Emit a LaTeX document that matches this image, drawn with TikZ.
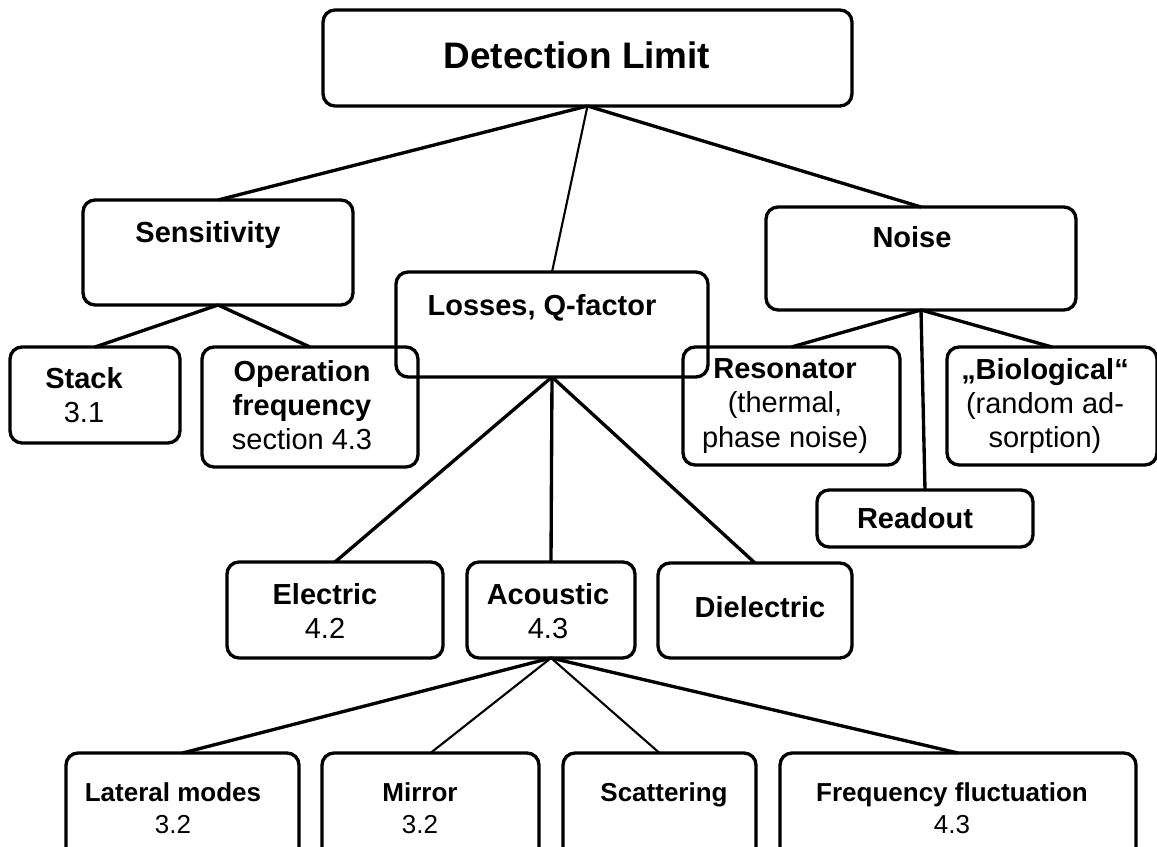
\documentclass[tikz,border=0pt]{standalone}
\usepackage{fontspec}
\setmainfont{Liberation Sans}

\begin{document}
\begin{tikzpicture}[x=0.02cm, y=-0.02cm,
    box/.style={draw, line width=1.9pt, rounded corners=0.24cm, inner sep=0pt, outer sep=0pt},
    link/.style={line width=1.9pt},
    thinlink/.style={line width=1.2pt},
    txt/.style={inner sep=0pt, align=center, font=\fontsize{16.5}{19.4}\selectfont},
    small/.style={inner sep=0pt, align=center, font=\fontsize{14.8}{18.2}\selectfont},
    title/.style={inner sep=0pt, font=\fontsize{21}{25}\selectfont\bfseries}]
  \useasboundingbox (0,0) rectangle (1157,847);
  \clip (0,0) rectangle (1157,847);

  % boxes
  \node[box, minimum width=10.58cm, minimum height=1.92cm] (dl) at (587.5,58) {};
  \node[box, minimum width=5.4cm, minimum height=2.1cm] (sens) at (218,252.5) {};
  \node[box, minimum width=6.24cm, minimum height=2.1cm] (loss) at (552,324.5) {};
  \node[box, minimum width=6.2cm, minimum height=2.06cm] (noise) at (921,258.5) {};
  \node[box, minimum width=3.4cm, minimum height=1.92cm] (stack) at (95,395) {};
  \node[box, minimum width=4.32cm, minimum height=2.4cm] (opfreq) at (310,407) {};
  \node[box, minimum width=4.34cm, minimum height=2.36cm] (reson) at (791.5,406) {};
  \node[box, minimum width=4.2cm, minimum height=2.36cm] (bio) at (1052,406) {};
  \node[box, minimum width=4.32cm, minimum height=1.14cm] (readout) at (925,518.5) {};
  \node[box, minimum width=4.32cm, minimum height=1.92cm] (elec) at (335,610) {};
  \node[box, minimum width=3.36cm, minimum height=1.92cm] (acou) at (551,610) {};
  \node[box, minimum width=3.88cm, minimum height=1.9cm] (diel) at (755,610.5) {};
  \node[box, minimum width=4.66cm, minimum height=2.4cm] (lat) at (182.5,813) {};
  \node[box, minimum width=4.34cm, minimum height=2.4cm] (mirror) at (430.5,813) {};
  \node[box, minimum width=3.86cm, minimum height=2.4cm] (scat) at (659.5,813) {};
  \node[box, minimum width=7.12cm, minimum height=2.4cm] (freq) at (958,813) {};

  % texts
  \node[title, anchor=base] (dl-t) at (577,69) {Detection Limit};
  \node[txt, anchor=base] (sens-t) at (208,243) {\textbf{Sensitivity}};
  \node[txt, anchor=base] (loss-t) at (542,316) {\textbf{Losses, Q-factor}};
  \node[txt, anchor=base] (noise-t) at (912,248) {\textbf{Noise}};
  \node[txt] (stack-t) at (84,395) {\textbf{Stack}\\3.1};
  \node[txt] (opfreq-t) at (302,405.5) {\textbf{Operation}\\\textbf{frequency}\\section 4.3};
  \node[txt] (reson-t) at (785,406) {\textbf{Resonator}\\(thermal,\\phase noise)};
  \node[txt] (bio-t) at (1045,406) {\textbf{„Biological“}\\(random ad-\\sorption)};
  \node[txt, anchor=base] (readout-t) at (915,528.5) {\textbf{Readout}};
  \node[txt] (elec-t) at (325,611) {\textbf{Electric}\\4.2};
  \node[txt] (acou-t) at (548,611) {\textbf{Acoustic}\\4.3};
  \node[txt, anchor=base] (diel-t) at (760,617.5) {\textbf{Dielectric}};
  \node[small] (lat-t) at (173,808.5) {\textbf{Lateral modes}\\3.2};
  \node[small] (mirror-t) at (420,808.5) {\textbf{Mirror}\\3.2};
  \node[small, anchor=base] (scat-t) at (664,802) {\textbf{Scattering}};
  \node[small] (freq-t) at (952,808.5) {\textbf{Frequency fluctuation}\\4.3};

  % connectors
  \draw[link] (dl.south) -- (sens.north);
  \draw[thinlink] (dl.south) -- (loss.north);
  \draw[link] (dl.south) -- (noise.north);
  \draw[link] (sens.south) -- (stack.north);
  \draw[link] (sens.south) -- (opfreq.north);
  \draw[link] (noise.south) -- (reson.north);
  \draw[link] (noise.south) -- (readout.north);
  \draw[link] (noise.south) -- (bio.north);
  \draw[link] (loss.south) -- (elec.north);
  \draw[link] (loss.south) -- (acou.north);
  \draw[link] (loss.south) -- (diel.north);
  \draw[link] (acou.south) -- (lat.north);
  \draw[thinlink] (acou.south) -- (mirror.north);
  \draw[thinlink] (acou.south) -- (scat.north);
  \draw[link] (acou.south) -- (freq.north);
\end{tikzpicture}
\end{document}
